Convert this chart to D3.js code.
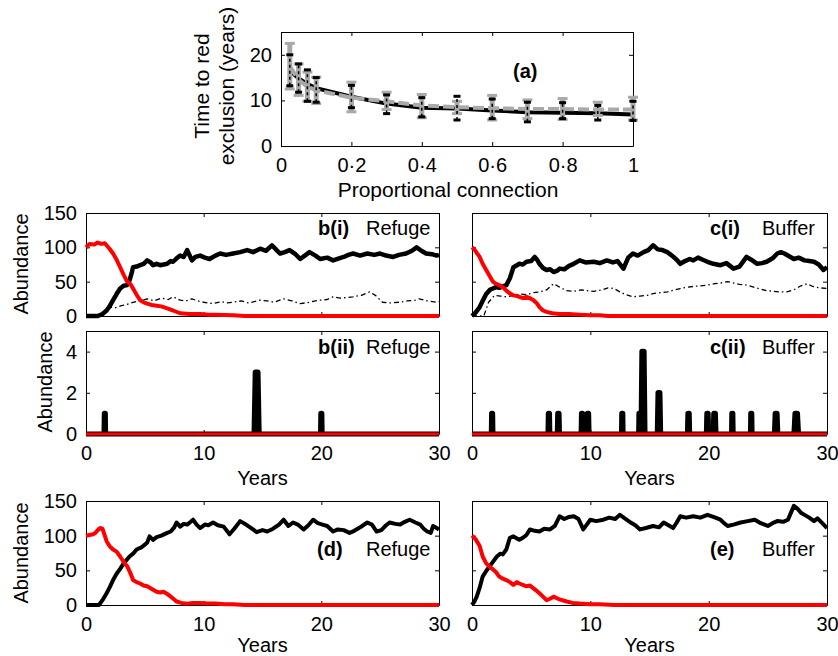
<!DOCTYPE html>
<html>
<head>
<meta charset="utf-8">
<script src="https://cdn.jsdelivr.net/npm/d3@7"></script>
<style>
    body { margin: 0; background: white; }
    svg { font-family: "Liberation Sans", Arial, sans-serif; }
</style>
</head>
<body>
<svg id="chart" width="838" height="656"></svg>
<script>
// data: panel (a)

let connection = [0.025, 0.05, 0.075, 0.1, 0.2, 0.3, 0.4, 0.5, 0.6, 0.7, 0.8, 0.9, 1.0];
let solidMean = [16.5, 14.8, 13.6, 12.7, 10.8, 9.3, 8.4, 8.2, 7.8, 7.4, 7.3, 7.2, 6.9];
let solidLow  = [13.2, 11.8, 9.8, 9.6, 8.4, 7.1, 6.4, 5.7, 6.0, 5.3, 6.0, 5.7, 5.6];
let solidHigh = [20.0, 18.0, 16.7, 15.0, 13.3, 11.2, 10.6, 10.9, 10.3, 9.6, 9.5, 8.9, 9.8];
let dashedMean = [17.5, 14.5, 13.0, 12.2, 10.6, 9.8, 8.9, 8.5, 8.3, 8.1, 8.1, 8.0, 8.0];
let dashedLow  = [12.5, 11.1, 9.8, 9.3, 7.5, 8.0, 6.2, 7.1, 5.7, 6.0, 5.8, 6.7, 5.7];
let dashedHigh = [22.5, 18.0, 16.2, 15.1, 14.0, 11.8, 11.3, 9.8, 11.1, 10.1, 10.4, 9.6, 10.7];

let connTicks = [0, 0.2, 0.4, 0.6, 0.8, 1];
let timeTicks = [0, 10, 20];

// data: time series [year, abundance]

let yearTicks = [0, 10, 20, 30];
let abundTicks = [0, 50, 100, 150];
let rareTicks = [0, 2, 4];

let bRed = [[0,100],[0.3,105],[0.7,104],[1.0,107],[1.3,105],[1.6,106],[2.0,98],[2.3,91],[2.6,82],[2.9,71],[3.2,60],[3.5,50],[3.8,46],[4.0,40],[4.3,31],[4.6,23],[4.9,20],[5.2,18],[5.6,16],[6.0,15],[6.4,14],[6.9,11],[7.4,8],[8.0,4],[8.8,3],[9.7,3],[10.4,2],[11.0,2],[12.5,1],[13.5,0],[30,0]];
let bGrey = [[0,0],[1.0,0],[1.4,3],[1.75,8],[2.0,14],[2.3,23],[2.6,32],[2.9,40],[3.2,44],[3.5,45],[3.7,52],[3.9,64],[4.0,71],[4.3,72],[4.6,74],[4.9,76],[5.2,81],[5.5,78],[5.7,74],[6.0,76],[6.3,74],[6.6,75],[6.9,76],[7.2,80],[7.4,79],[7.7,84],[8.0,88],[8.3,86],[8.6,96],[9.0,81],[9.3,86],[9.7,88],[10.1,85],[10.5,83],[11.0,88],[11.4,91],[11.9,89],[12.5,91],[13.1,93],[13.7,96],[14.2,93],[14.8,98],[15.3,95],[15.8,103],[16.2,96],[16.5,91],[16.9,93],[17.3,96],[17.8,90],[18.2,83],[18.6,88],[19.0,93],[19.5,88],[19.9,83],[20.5,85],[21.0,81],[21.5,84],[21.9,86],[22.3,89],[22.7,91],[23.3,88],[23.9,91],[24.5,89],[25.0,91],[25.5,88],[26.1,86],[26.6,89],[27.2,91],[27.7,95],[28.1,100],[28.5,95],[28.9,91],[29.4,90],[29.8,88],[30,89]];
let bRefugePop = [[0,0],[1.3,0],[2.0,13],[2.5,12],[3.0,15],[3.5,17],[4.0,20],[4.6,22],[5.2,25],[5.8,22],[6.4,26],[7.0,24],[7.4,28],[8.0,23],[8.5,22],[9.0,25],[9.5,22],[10.0,20],[10.8,18],[11.5,21],[12.0,19],[12.5,20],[13.2,22],[13.8,19],[14.3,21],[14.8,23],[15.4,22],[16.0,20],[16.8,25],[17.5,22],[18.2,18],[19.0,20],[19.5,22],[19.9,23],[20.5,24],[21.0,28],[21.6,26],[22.2,27],[22.7,28],[23.4,30],[24.1,35],[24.6,30],[25.2,20],[25.8,19],[26.6,20],[27.3,22],[28.0,23],[28.3,25],[29.0,22],[29.8,20],[30,21]];

let cRed = [[0,100],[0.2,97],[0.4,92],[0.65,86],[0.9,76],[1.2,67],[1.5,58],[1.77,50],[2.0,47],[2.3,45],[2.6,42],[2.9,37],[3.2,33],[3.5,30],[3.8,29],[4.0,28],[4.3,26],[4.6,28],[4.9,26],[5.2,23],[5.5,18],[5.7,13],[6.0,8],[6.3,6],[6.8,4],[7.4,3],[8.2,3],[9.1,2],[10.0,1],[10.8,1],[11.5,0],[30,0]];
let cGrey = [[0,0],[0.3,5],[0.65,13],[0.9,22],[1.2,32],[1.5,38],[1.77,40],[2.0,42],[2.3,41],[2.6,43],[2.9,45],[3.2,55],[3.5,71],[3.8,74],[4.0,76],[4.3,75],[4.6,79],[5.0,80],[5.3,86],[5.5,82],[5.7,76],[6.0,70],[6.3,67],[6.6,68],[6.9,64],[7.2,66],[7.4,69],[7.8,68],[8.2,73],[8.6,76],[9.1,81],[9.6,78],[10.3,79],[10.8,77],[11.4,81],[11.9,78],[12.3,80],[12.8,69],[13.2,85],[13.6,91],[14.0,88],[14.5,93],[14.9,96],[15.3,103],[15.7,97],[16.1,96],[16.5,93],[16.9,88],[17.3,82],[17.6,76],[18.0,80],[18.4,83],[18.7,81],[19.1,85],[19.5,82],[19.9,79],[20.4,76],[21.0,74],[21.5,77],[22.1,69],[22.6,72],[23.2,86],[23.6,82],[24.1,76],[24.5,77],[24.9,79],[25.4,84],[25.8,91],[26.1,93],[26.4,91],[26.8,87],[27.2,83],[27.6,85],[28.1,81],[28.5,80],[28.9,79],[29.3,75],[29.7,67],[30,71]];
let cBufferPop = [[0,0],[1.0,0],[1.4,20],[1.9,30],[2.4,29],[2.9,28],[3.5,30],[4.0,32],[4.6,31],[5.2,34],[5.7,35],[6.3,38],[6.9,47],[7.4,42],[8.0,37],[8.6,36],[9.2,38],[9.7,37],[10.3,36],[11.0,38],[11.5,41],[12.0,40],[12.5,35],[13.0,31],[13.6,28],[14.2,29],[14.8,30],[15.4,33],[16.0,34],[16.5,35],[17.1,38],[17.6,40],[18.2,42],[18.7,43],[19.3,44],[19.9,45],[20.5,47],[21.0,48],[21.6,50],[22.1,48],[22.6,46],[23.2,45],[23.8,42],[24.4,39],[24.9,37],[25.5,36],[26.0,35],[26.6,35],[27.2,38],[27.8,44],[28.3,47],[28.8,43],[29.4,41],[30,40]];

// rare-species pulses [year, abundance, duration in years]
let bPulses = [[1.6,1,0.1],[14.5,3,0.4],[20.0,1,0.1]];
let cPulses = [[1.7,1,0.1],[6.5,1,0.12],[7.3,1,0.15],[9.3,1,0.12],[9.8,1,0.15],[12.7,1,0.1],[14.15,1,0.1],[14.45,4,0.3],[15.8,2,0.25],[18.3,1,0.15],[19.9,1,0.15],[20.5,1,0.2],[22.0,1,0.1],[23.6,1,0.1],[25.7,1,0.25],[27.4,1,0.35]];
let redAbsent = [[0,0],[30,0]];

let dRed = [[0,100],[0.3,101],[0.6,102],[0.8,104],[1.05,109],[1.2,111],[1.4,110],[1.6,100],[1.75,92],[2.0,85],[2.3,80],[2.6,77],[2.9,70],[3.2,62],[3.5,56],[3.8,45],[4.0,36],[4.3,33],[4.6,31],[4.9,28],[5.2,27],[5.6,23],[6.0,19],[6.3,18],[6.6,19],[6.9,16],[7.2,12],[7.5,8],[7.7,5],[8.1,3],[8.6,2],[9.1,3],[9.7,3],[10.3,2],[11.0,2],[11.8,1],[12.5,1],[13.5,0],[30,0]];
let dGrey = [[0,0],[1.1,0],[1.4,7],[1.75,17],[2.0,25],[2.3,36],[2.6,45],[2.9,52],[3.2,60],[3.5,66],[3.7,70],[4.0,74],[4.3,80],[4.7,83],[5.0,87],[5.2,90],[5.4,99],[5.7,94],[6.0,98],[6.4,100],[6.9,104],[7.2,106],[7.5,112],[7.7,119],[8.0,113],[8.3,117],[8.6,116],[8.9,120],[9.1,123],[9.4,116],[9.7,111],[10.1,116],[10.4,115],[10.8,119],[11.2,115],[11.7,113],[12.2,102],[12.6,110],[13.1,121],[13.6,116],[14.2,109],[14.5,105],[15.0,108],[15.4,106],[15.9,110],[16.4,116],[16.8,123],[17.2,114],[17.6,119],[18.0,116],[18.5,109],[18.9,115],[19.3,123],[19.7,118],[20.1,116],[20.5,114],[21.0,106],[21.4,109],[21.9,108],[22.4,104],[22.8,107],[23.3,112],[23.9,119],[24.3,116],[24.7,106],[25.1,108],[25.5,115],[25.8,119],[26.3,117],[26.7,116],[27.1,120],[27.5,123],[28.0,119],[28.4,116],[28.7,110],[29.0,106],[29.3,104],[29.5,114],[29.8,111],[30,109]];

let eRed = [[0,100],[0.3,95],[0.65,85],[0.9,70],[1.2,60],[1.5,55],[1.8,51],[2.0,48],[2.3,41],[2.6,38],[2.9,36],[3.2,33],[3.5,29],[3.8,33],[4.0,31],[4.3,29],[4.6,27],[4.9,28],[5.2,24],[5.5,20],[5.7,17],[6.0,12],[6.3,7],[6.6,9],[6.9,12],[7.4,8],[8.0,5],[8.5,3],[9.1,2],[10.0,1],[10.8,1],[12.0,0],[30,0]];
let eGrey = [[0,0],[0.2,5],[0.4,12],[0.65,25],[0.9,41],[1.2,49],[1.5,56],[1.8,63],[2.1,70],[2.4,74],[2.6,73],[2.9,80],[3.2,97],[3.5,99],[3.8,96],[4.0,94],[4.3,97],[4.6,101],[4.9,109],[5.3,107],[5.7,106],[6.1,110],[6.6,109],[7.0,114],[7.4,128],[7.8,124],[8.2,127],[8.6,128],[9.0,124],[9.4,109],[9.7,116],[10.0,123],[10.5,121],[11.1,123],[11.6,126],[12.1,124],[12.5,130],[13.0,124],[13.4,119],[13.8,115],[14.2,109],[14.7,111],[15.3,114],[15.8,112],[16.2,119],[16.6,115],[17.0,111],[17.3,119],[17.6,128],[18.1,126],[18.7,128],[19.3,126],[19.9,130],[20.4,127],[21.0,123],[21.3,118],[21.6,114],[22.1,116],[22.7,119],[23.3,121],[23.9,123],[24.4,118],[25.0,114],[25.4,118],[25.8,121],[26.3,120],[26.7,123],[27.0,135],[27.2,143],[27.5,139],[27.8,133],[28.1,130],[28.5,126],[28.9,121],[29.2,125],[29.6,118],[30,111]];

// layout

let svg = d3.select('#chart');
let font = 20;
let tick = 4;

function makePanel(box, xDomain, yDomain) {
    let g = svg.append('g')
        .attr('transform', `translate(${box.left},${box.top})`);
    let x = d3.scaleLinear().domain(xDomain).range([0, box.right - box.left]);
    let y = d3.scaleLinear().domain(yDomain).range([box.bottom - box.top, 0]);
    return { g, x, y, box };
}

function drawAxes(p, opt) {
    let { g, x, y } = p;
    let w = x.range()[1], h = y.range()[0];
    let blank = () => '';
    let fmt = opt.xFormat || d3.format('d');

    let axes = [
        g.append('g')
            .attr('transform', `translate(0,${h})`)
            .call(d3.axisBottom(x).tickValues(opt.xTicks).tickSize(-tick).tickSizeOuter(0)
                .tickPadding(12).tickFormat(opt.xLabels ? fmt : blank)),
        g.append('g')
            .call(d3.axisTop(x).tickValues(opt.xTicks).tickSize(-tick).tickSizeOuter(0).tickFormat(blank)),
        g.append('g')
            .call(d3.axisLeft(y).tickValues(opt.yTicks).tickSize(-tick).tickSizeOuter(0)
                .tickPadding(9).tickFormat(opt.yLabels ? d3.format('d') : blank)),
        g.append('g')
            .attr('transform', `translate(${w},0)`)
            .call(d3.axisRight(y).tickValues(opt.yTicks).tickSize(-tick).tickSizeOuter(0).tickFormat(blank)),
    ];
    axes.forEach(a => {
        a.attr('font-size', font).attr('font-family', null);
        a.selectAll('.tick text').attr('fill', 'black');
        a.selectAll('line, .domain').attr('stroke', 'black');
    });
}

function yTitle(lines, cx, cy, size) {
    let t = svg.append('text')
        .attr('transform', `translate(${cx},${cy}) rotate(-90)`)
        .attr('text-anchor', 'middle')
        .attr('font-size', size || font);
    lines.forEach((s, i) => {
        t.append('tspan')
            .attr('x', 0)
            .attr('dy', i == 0 ? `${0.35 - (lines.length - 1) * 0.6}em` : '1.2em')
            .text(s);
    });
}

function xTitle(p, s, dy) {
    svg.append('text')
        .attr('x', (p.box.left + p.box.right) / 2)
        .attr('y', p.box.bottom + dy)
        .attr('text-anchor', 'middle')
        .attr('font-size', font)
        .text(s);
}

function tag(p, bold, word, dy, boldDx, wordDx) {
    let t = p.g.append('text')
        .attr('y', dy)
        .attr('font-size', font);
    t.append('tspan')
        .attr('x', p.x.range()[1] - boldDx)
        .attr('font-weight', 'bold')
        .text(bold);
    t.append('tspan')
        .attr('x', p.x.range()[1] - wordDx)
        .text(word);
}

let line = (p) => d3.line().x(d => p.x(d[0])).y(d => p.y(d[1]));

function series(p, data, colour, width, dash) {
    p.g.append('path')
        .datum(data)
        .attr('fill', 'none')
        .attr('stroke', colour)
        .attr('stroke-width', width)
        .attr('stroke-linejoin', 'round')
        .attr('stroke-dasharray', dash || null)
        .attr('d', line(p));
}

function pulses(p, data) {
    p.g.selectAll('.pulse')
        .data(data)
        .enter()
        .append('path')
        .classed('pulse', 1)
        .attr('fill', 'black')
        .attr('stroke', 'black')
        .attr('stroke-width', 5.5)
        .attr('stroke-linejoin', 'round')
        .attr('d', d => line(p)([
            [d[0] - d[2] / 2, 0], [d[0] - d[2] / 4, d[1]],
            [d[0] + d[2] / 4, d[1]], [d[0] + d[2] / 2, 0],
        ]));
}

// panel (a)

let pa = makePanel({ left: 281, right: 633, top: 32, bottom: 146 }, [0, 1], [0, 25]);
drawAxes(pa, {
    xTicks: connTicks, yTicks: timeTicks, xLabels: true, yLabels: true,
    xFormat: d => d == 0 || d == 1 ? String(d) : d3.format('.1f')(d).replace('.', '·'),
});

let meanLine = (vals) => d3.line()
    .x((d, i) => pa.x(connection[i]))
    .y(d => pa.y(d))(vals);

pa.g.append('path')
    .attr('d', meanLine(solidMean))
    .attr('fill', 'none')
    .attr('stroke', 'black')
    .attr('stroke-width', 4);

pa.g.append('path')
    .attr('d', meanLine(dashedMean))
    .attr('fill', 'none')
    .attr('stroke', '#a9a9a9')
    .attr('stroke-width', 4)
    .attr('stroke-dasharray', '11,4');

function errorBars(low, high, colour, width, capHalf, dash) {
    let bars = pa.g.append('g')
        .selectAll('g')
        .data(connection)
        .enter()
        .append('g');
    bars.append('line')
        .attr('x1', d => pa.x(d))
        .attr('x2', d => pa.x(d))
        .attr('y1', (d, i) => pa.y(low[i]))
        .attr('y2', (d, i) => pa.y(high[i]))
        .attr('stroke', colour)
        .attr('stroke-width', width)
        .attr('stroke-dasharray', dash || null);
    [low, high].forEach(v => {
        bars.append('line')
            .attr('x1', d => pa.x(d) - capHalf)
            .attr('x2', d => pa.x(d) + capHalf)
            .attr('y1', (d, i) => pa.y(v[i]))
            .attr('y2', (d, i) => pa.y(v[i]))
            .attr('stroke', colour)
            .attr('stroke-width', 3);
    });
}

errorBars(dashedLow, dashedHigh, '#a9a9a9', 5, 5);
errorBars(solidLow, solidHigh, 'black', 1.5, 3.5, '3,3');

pa.g.append('text')
    .attr('x', 232)
    .attr('y', 46)
    .attr('font-size', font)
    .attr('font-weight', 'bold')
    .text('(a)');

yTitle(['Time to red', 'exclusion (years)'], 214, 86, 21);
svg.append('text')
    .attr('x', 448)
    .attr('y', 197)
    .attr('text-anchor', 'middle')
    .attr('font-size', 21)
    .text('Proportional connection');

// panels b, c, d, e

let pbi = makePanel({ left: 86, right: 439, top: 213, bottom: 316 }, [0, 30], [0, 150]);
let pci = makePanel({ left: 472, right: 827, top: 213, bottom: 316 }, [0, 30], [0, 150]);
let pbii = makePanel({ left: 86, right: 439, top: 331, bottom: 434 }, [0, 30], [0, 5]);
let pcii = makePanel({ left: 472, right: 827, top: 331, bottom: 434 }, [0, 30], [0, 5]);
let pd = makePanel({ left: 86, right: 439, top: 501, bottom: 605 }, [0, 30], [0, 150]);
let pe = makePanel({ left: 472, right: 827, top: 501, bottom: 605 }, [0, 30], [0, 150]);

drawAxes(pbi, { xTicks: yearTicks, yTicks: abundTicks, yLabels: true });
drawAxes(pci, { xTicks: yearTicks, yTicks: abundTicks });
drawAxes(pbii, { xTicks: yearTicks, yTicks: rareTicks, xLabels: true, yLabels: true });
drawAxes(pcii, { xTicks: yearTicks, yTicks: rareTicks, xLabels: true });
drawAxes(pd, { xTicks: yearTicks, yTicks: abundTicks, xLabels: true, yLabels: true });
drawAxes(pe, { xTicks: yearTicks, yTicks: abundTicks, xLabels: true });

series(pbi, bRefugePop, 'black', 1.3, '5,3,1.5,3');
series(pbi, bGrey, 'black', 4.5);
series(pbi, bRed, 'red', 4);

series(pci, cBufferPop, 'black', 1.3, '5,3,1.5,3');
series(pci, cGrey, 'black', 4.5);
series(pci, cRed, 'red', 4);

series(pbii, redAbsent, 'black', 5);
pulses(pbii, bPulses);
series(pbii, redAbsent, 'red', 3);

series(pcii, redAbsent, 'black', 5);
pulses(pcii, cPulses);
series(pcii, redAbsent, 'red', 3);

series(pd, dGrey, 'black', 4);
series(pd, dRed, 'red', 4);
series(pe, eGrey, 'black', 4);
series(pe, eRed, 'red', 4);

// labels

tag(pbi, 'b(i)', 'Refuge', 22, 121, 73);
tag(pci, 'c(i)', 'Buffer', 22, 117, 65);
tag(pbii, 'b(ii)', 'Refuge', 23, 121, 73);
tag(pcii, 'c(ii)', 'Buffer', 23, 117, 65);
tag(pd, '(d)', 'Refuge', 55, 122, 73);
tag(pe, '(e)', 'Buffer', 55, 117, 65);

yTitle(['Abundance'], 21, 264);
yTitle(['Abundance'], 45, 382);
yTitle(['Abundance'], 21, 553);

xTitle(pbii, 'Years', 51);
xTitle(pcii, 'Years', 51);
xTitle(pd, 'Years', 47);
xTitle(pe, 'Years', 47);
</script>
</body>
</html>
